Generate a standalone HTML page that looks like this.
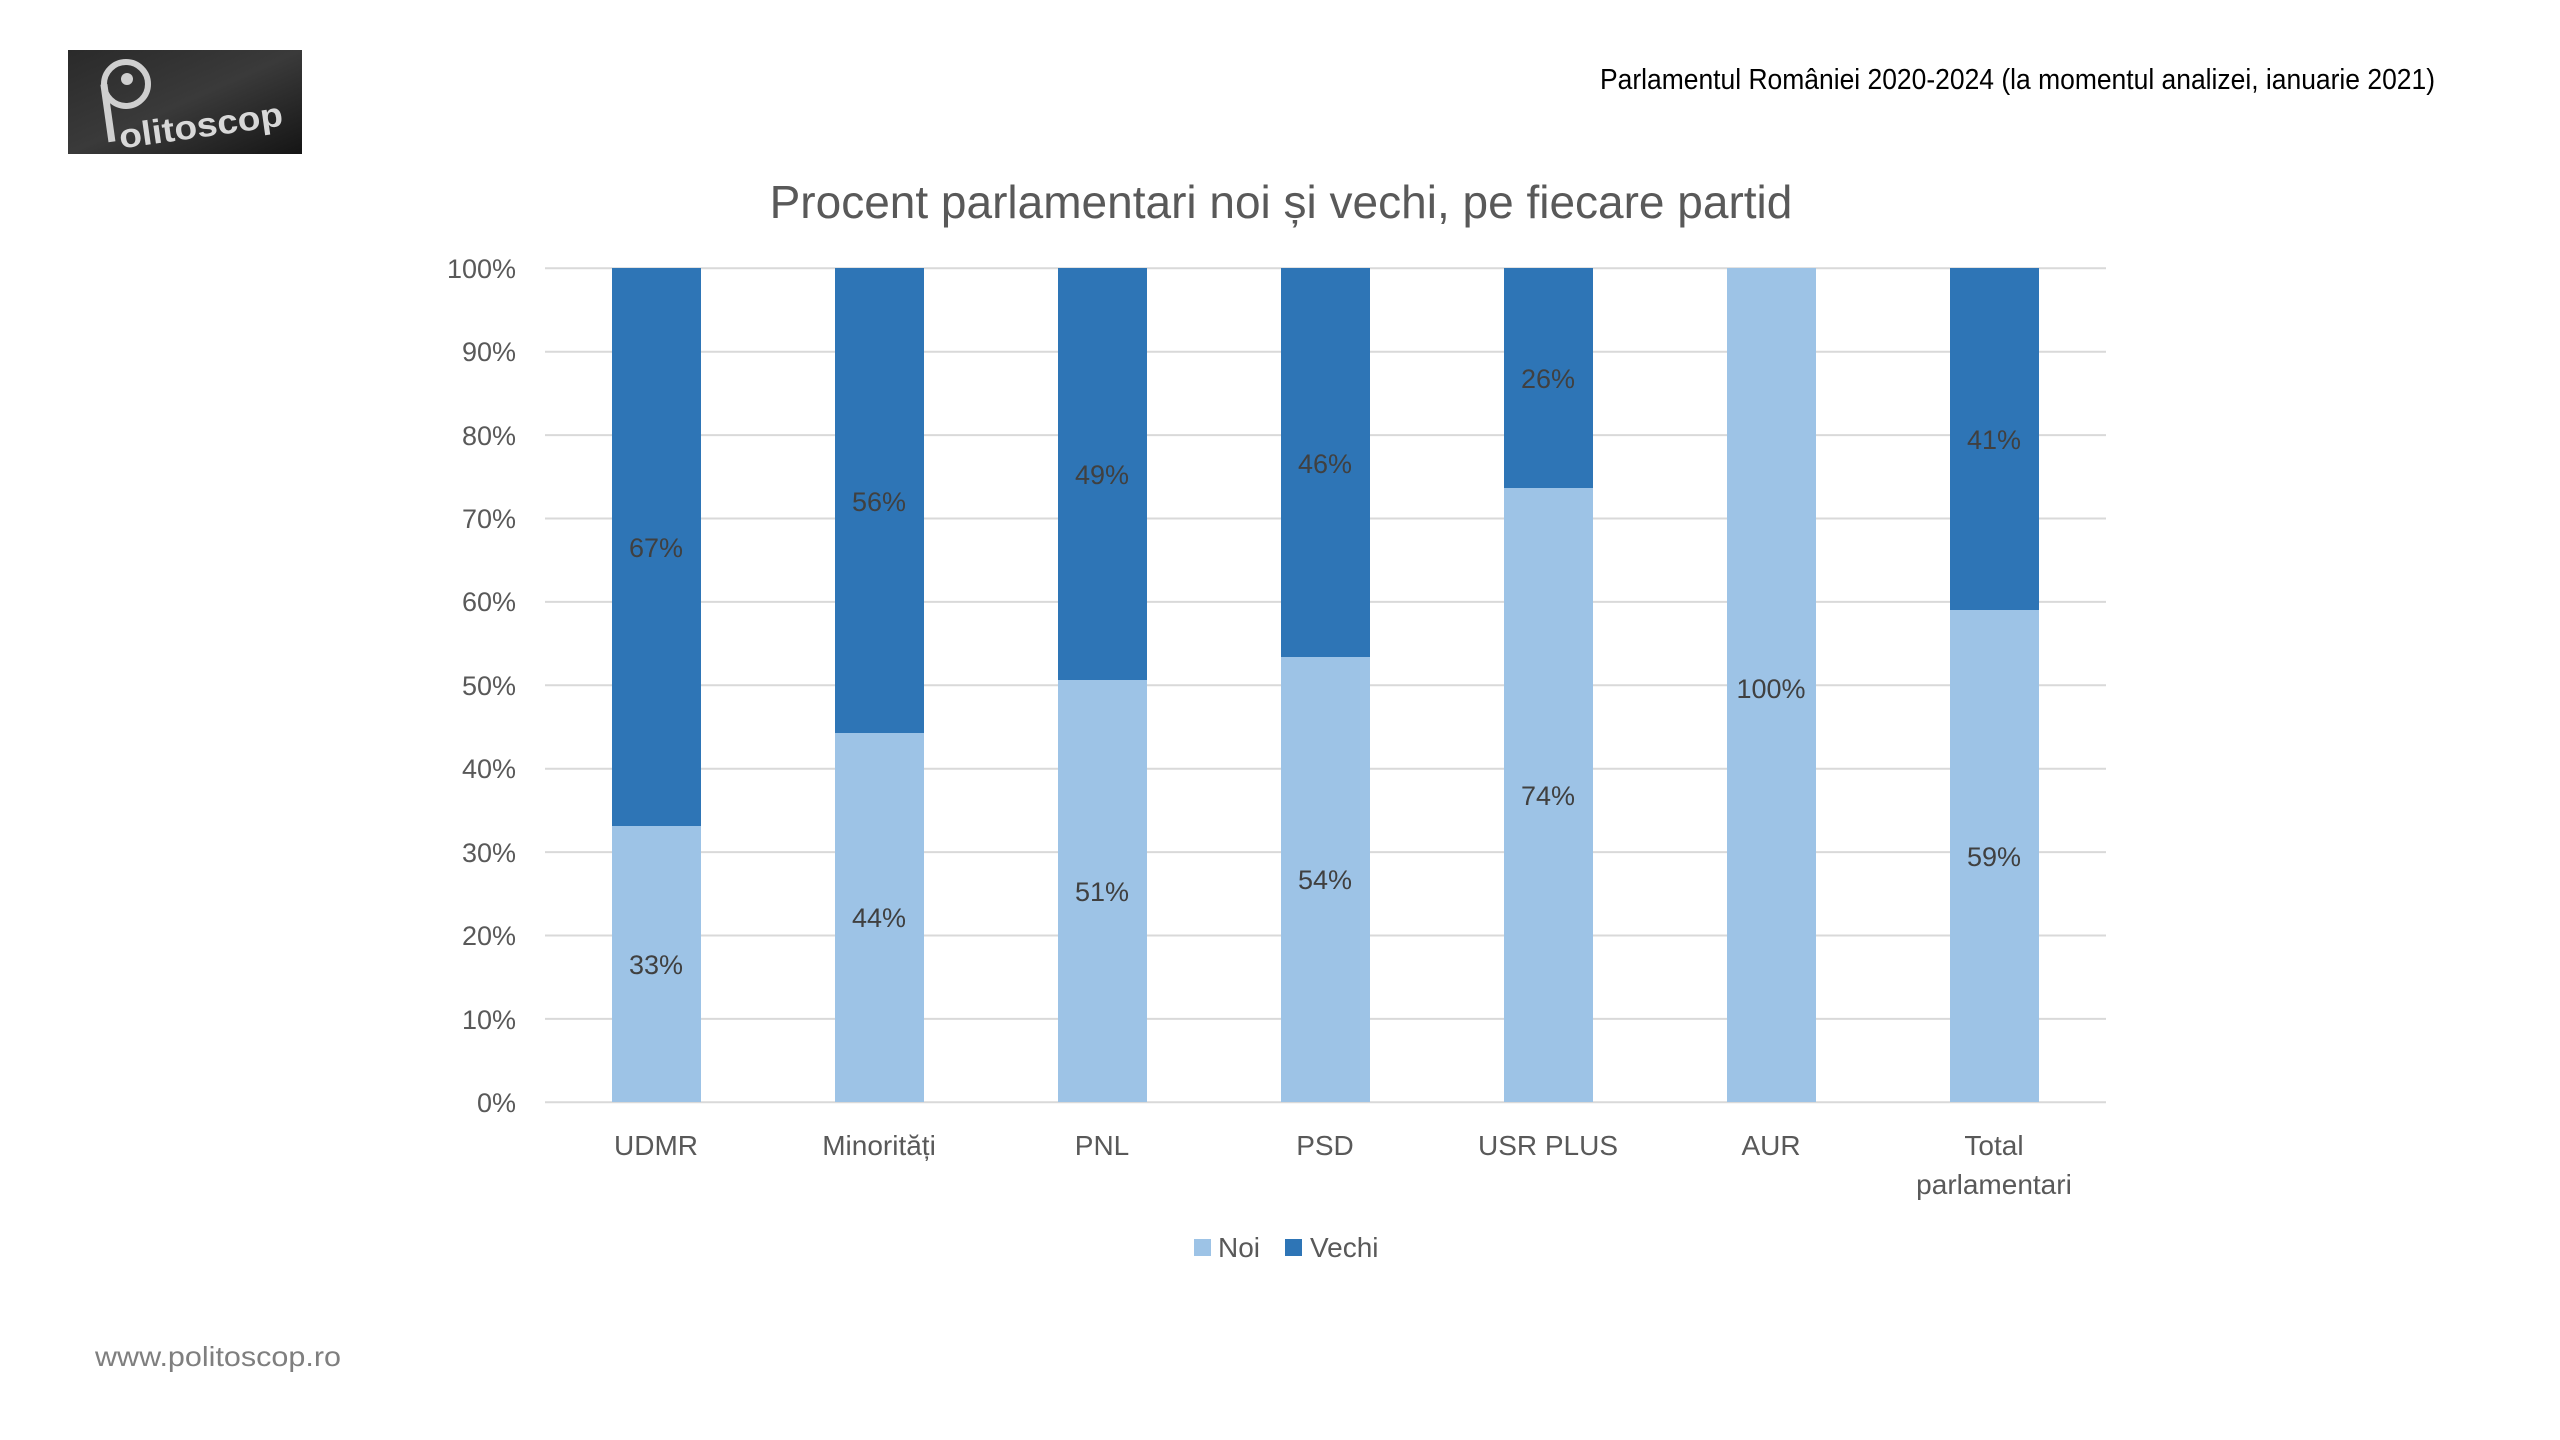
<!DOCTYPE html>
<html><head><meta charset="utf-8"><style>
html,body{margin:0;padding:0;background:#fff;width:2560px;height:1440px;overflow:hidden}
</style></head><body>
<svg width="2560" height="1440" viewBox="0 0 2560 1440" xmlns="http://www.w3.org/2000/svg" font-family="'Liberation Sans', sans-serif">
<defs><linearGradient id="lg" x1="0" y1="0" x2="1" y2="1"><stop offset="0" stop-color="#2a2a2a"/><stop offset="0.5" stop-color="#3a3a3a"/><stop offset="1" stop-color="#151515"/></linearGradient></defs>
<rect x="68" y="50" width="234" height="104" fill="url(#lg)"/>
<circle cx="126" cy="84" r="22" fill="none" stroke="#cfcfcf" stroke-width="6"/>
<rect x="104" y="84" width="7" height="58" fill="#cfcfcf" transform="rotate(-8 108 110)"/>
<circle cx="127" cy="79" r="6" fill="#cfcfcf"/>
<text x="118" y="140" font-size="34" fill="#d8d8d8" font-weight="bold" transform="rotate(-8 180 125)" textLength="165" lengthAdjust="spacingAndGlyphs">olitoscop</text>
<text x="1600" y="89" font-size="29" fill="#000" textLength="835" lengthAdjust="spacingAndGlyphs">Parlamentul României 2020-2024 (la momentul analizei, ianuarie 2021)</text>
<text x="1281" y="218" text-anchor="middle" font-size="46" fill="#595959">Procent parlamentari noi și vechi, pe fiecare partid</text>
<g stroke="#d9d9d9" stroke-width="2">
<line x1="545" x2="2106" y1="268.3" y2="268.3"/><line x1="545" x2="2106" y1="351.7" y2="351.7"/>
<line x1="545" x2="2106" y1="435.1" y2="435.1"/><line x1="545" x2="2106" y1="518.5" y2="518.5"/>
<line x1="545" x2="2106" y1="601.9" y2="601.9"/><line x1="545" x2="2106" y1="685.3" y2="685.3"/>
<line x1="545" x2="2106" y1="768.7" y2="768.7"/><line x1="545" x2="2106" y1="852.1" y2="852.1"/>
<line x1="545" x2="2106" y1="935.5" y2="935.5"/><line x1="545" x2="2106" y1="1018.9" y2="1018.9"/>
<line x1="545" x2="2106" y1="1102.3" y2="1102.3"/>
</g>
<g font-size="27" fill="#595959" text-anchor="end">
<text x="516" y="278">100%</text><text x="516" y="361">90%</text><text x="516" y="445">80%</text>
<text x="516" y="528">70%</text><text x="516" y="611">60%</text><text x="516" y="695">50%</text>
<text x="516" y="778">40%</text><text x="516" y="862">30%</text><text x="516" y="945">20%</text>
<text x="516" y="1029">10%</text><text x="516" y="1112">0%</text>
</g>
<g fill="#2e75b6">
<rect x="612" y="268" width="89" height="558"/>
<rect x="835" y="268" width="89" height="465"/>
<rect x="1058" y="268" width="89" height="412"/>
<rect x="1281" y="268" width="89" height="389"/>
<rect x="1504" y="268" width="89" height="220"/>
<rect x="1950" y="268" width="89" height="342"/>
</g>
<g fill="#9dc3e6">
<rect x="612" y="826" width="89" height="276"/>
<rect x="835" y="733" width="89" height="369"/>
<rect x="1058" y="680" width="89" height="422"/>
<rect x="1281" y="657" width="89" height="445"/>
<rect x="1504" y="488" width="89" height="614"/>
<rect x="1727" y="268" width="89" height="834"/>
<rect x="1950" y="610" width="89" height="492"/>
</g>
<g font-size="27" fill="#404040" text-anchor="middle">
<text x="656" y="557">67%</text><text x="656" y="974">33%</text>
<text x="879" y="511">56%</text><text x="879" y="927">44%</text>
<text x="1102" y="484">49%</text><text x="1102" y="901">51%</text>
<text x="1325" y="473">46%</text><text x="1325" y="889">54%</text>
<text x="1548" y="388">26%</text><text x="1548" y="805">74%</text>
<text x="1771" y="698">100%</text>
<text x="1994" y="449">41%</text><text x="1994" y="866">59%</text>
</g>
<g font-size="28" fill="#595959" text-anchor="middle">
<text x="656" y="1155">UDMR</text><text x="879" y="1155">Minorități</text>
<text x="1102" y="1155">PNL</text><text x="1325" y="1155">PSD</text>
<text x="1548" y="1155">USR PLUS</text><text x="1771" y="1155">AUR</text>
<text x="1994" y="1155">Total</text><text x="1994" y="1194">parlamentari</text>
</g>
<rect x="1194" y="1239" width="17" height="17" fill="#9dc3e6"/>
<text x="1218" y="1257" font-size="28" fill="#595959">Noi</text>
<rect x="1285" y="1239" width="17" height="17" fill="#2e75b6"/>
<text x="1310" y="1257" font-size="28" fill="#595959">Vechi</text>
<text x="95" y="1366" font-size="28" fill="#7f7f7f" textLength="246" lengthAdjust="spacingAndGlyphs">www.politoscop.ro</text>
</svg>
</body></html>
